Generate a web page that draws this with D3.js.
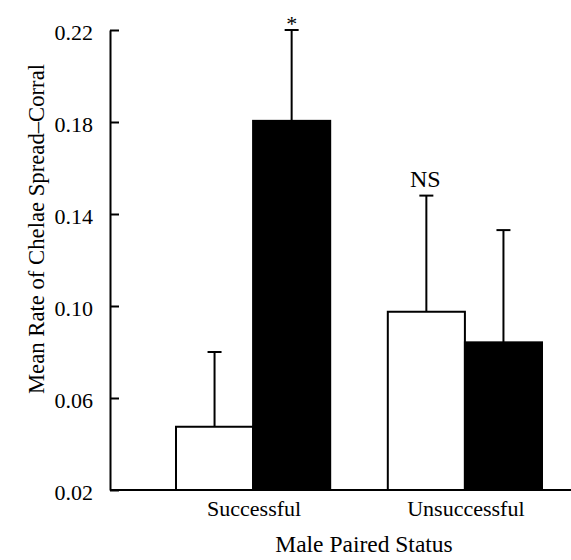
<!DOCTYPE html>
<html>
<head>
<meta charset="utf-8">
<script src="https://cdn.jsdelivr.net/npm/d3@7"></script>
<style>
  body { margin: 0; background: #fff; }
  svg text { font-family: "Liberation Serif", "Times New Roman", serif; fill: #000; }
</style>
</head>
<body>
<svg id="chart"></svg>
<script>
(function () {

  var width = 571, height = 560;

  // data
  var categories = ['Successful', 'Unsuccessful'];
  var series = ['open', 'filled'];
  var openMeans   = [0.0475, 0.0975];
  var openErrs    = [0.0325, 0.0505];
  var filledMeans = [0.1805, 0.0842];
  var filledErrs  = [0.0395, 0.0488];
  var markers     = ['*', 'NS'];   // shown above the taller bar of each group
  var yTicks = [0.02, 0.06, 0.10, 0.14, 0.18, 0.22];

  var rows = [];
  categories.forEach(function (c, i) {
    rows.push({ cat: c, s: 'open',   mean: openMeans[i],   err: openErrs[i] });
    rows.push({ cat: c, s: 'filled', mean: filledMeans[i], err: filledErrs[i] });
  });

  var svg = d3.select('#chart')
    .attr('width', width)
    .attr('height', height);

  var y = d3.scaleLinear().domain([0.02, 0.22]).range([490, 30]);

  var x0 = d3.scaleBand().domain(categories).range([176, 542])
    .paddingInner(0.272).paddingOuter(0);
  var x1 = d3.scaleBand().domain(series).range([0, x0.bandwidth()]);

  // baseline across the plot
  svg.append('line')
    .attr('x1', 110).attr('x2', width)
    .attr('y1', y(0.02)).attr('y2', y(0.02))
    .attr('stroke', '#000').attr('stroke-width', 2);

  // error bars (upper only)
  var eb = svg.append('g').selectAll('g')
    .data(rows).join('g');
  eb.append('line')
    .attr('x1', function (d) { return x0(d.cat) + x1(d.s) + x1.bandwidth() / 2; })
    .attr('x2', function (d) { return x0(d.cat) + x1(d.s) + x1.bandwidth() / 2; })
    .attr('y1', function (d) { return y(d.mean); })
    .attr('y2', function (d) { return y(d.mean + d.err); })
    .attr('stroke', '#000').attr('stroke-width', 2);
  eb.append('line')
    .attr('x1', function (d) { return x0(d.cat) + x1(d.s) + x1.bandwidth() / 2 - 7; })
    .attr('x2', function (d) { return x0(d.cat) + x1(d.s) + x1.bandwidth() / 2 + 7; })
    .attr('y1', function (d) { return y(d.mean + d.err); })
    .attr('y2', function (d) { return y(d.mean + d.err); })
    .attr('stroke', '#000').attr('stroke-width', 2);

  // bars
  svg.append('g').selectAll('rect')
    .data(rows).join('rect')
    .attr('x', function (d) { return x0(d.cat) + x1(d.s); })
    .attr('y', function (d) { return y(d.mean); })
    .attr('width', x1.bandwidth())
    .attr('height', function (d) { return y(0.02) - y(d.mean); })
    .attr('fill', function (d) { return d.s === 'open' ? '#fff' : '#000'; })
    .attr('stroke', '#000').attr('stroke-width', 2);

  // significance markers
  var tops = categories.map(function (c, i) {
    var a = openMeans[i] + openErrs[i], b = filledMeans[i] + filledErrs[i];
    return a > b ? { cat: c, s: 'open', top: a } : { cat: c, s: 'filled', top: b };
  });
  svg.append('g').selectAll('text')
    .data(tops).join('text')
    .attr('x', function (d, i) { return x0(d.cat) + x1(d.s) + x1.bandwidth() / 2 + (markers[i] === '*' ? 0 : -1); })
    .attr('y', function (d, i) { return y(d.top) - (markers[i] === '*' ? -1 : 9); })
    .attr('text-anchor', 'middle')
    .style('font-size', function (d, i) { return markers[i] === '*' ? '22px' : '24px'; })
    .text(function (d, i) { return markers[i]; });

  // y axis, ticks pointing inward
  var yAxis = svg.append('g')
    .attr('transform', 'translate(110,0)')
    .call(d3.axisLeft(y).tickValues(yTicks).tickFormat(d3.format('.2f'))
      .tickSizeInner(-9).tickSizeOuter(0).tickPadding(17));
  yAxis.select('.domain').attr('stroke', '#000').attr('stroke-width', 2);
  yAxis.selectAll('.tick line').attr('stroke', '#000').attr('stroke-width', 2);
  yAxis.selectAll('.tick text')
    .attr('dy', '0.45em')
    .style('font-size', '22px')
    .style('font-family', '"Liberation Serif", serif');

  // category labels
  svg.append('g').selectAll('text')
    .data(categories).join('text')
    .attr('x', function (d) { return x0(d) + x0.bandwidth() / 2 + 1; })
    .attr('y', 516)
    .attr('text-anchor', 'middle')
    .style('font-size', '22px')
    .text(function (d) { return d; });

  // axis titles
  svg.append('text')
    .attr('x', 364).attr('y', 552)
    .attr('text-anchor', 'middle')
    .style('font-size', '23.5px')
    .text('Male Paired Status');

  svg.append('text')
    .attr('transform', 'translate(44,229) rotate(-90)')
    .attr('text-anchor', 'middle')
    .style('font-size', '22.7px')
    .text('Mean Rate of Chelae Spread–Corral');

})();
</script>
</body>
</html>
